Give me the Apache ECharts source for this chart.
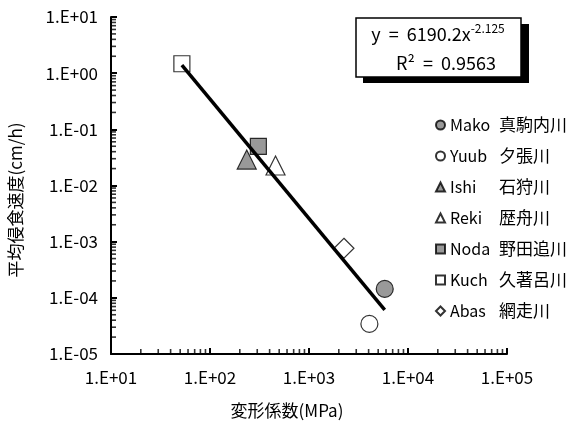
<!DOCTYPE html>
<head>
    <meta charset="utf-8">
    <title>ECharts</title>
    <script src="https://cdn.jsdelivr.net/npm/echarts@6/dist/echarts.min.js"></script>
</head>
<body style="margin:0;background:#fff">
    <div id="container" style="width:574px;height:421px"></div>
    <script type="text/javascript">
        // 観測値 [変形係数(MPa), 平均侵食速度(cm/h)]
        var mako = [[5820, 1.44e-4]];
        var yuub = [[4074, 3.43e-5]];
        var ishi = [[235, 0.029]];
        var reki = [[459, 0.0227]];
        var noda = [[308, 0.0496]];
        var kuch = [[52, 1.47]];
        var abas = [[2254, 7.64e-4]];
        // 近似線の両端
        var trend = [[52, 1.39], [5820, 6.1e-5]];

        var xTickLabels = ['1.E+01', '1.E+02', '1.E+03', '1.E+04', '1.E+05'];
        var yTickLabels = ['1.E-05', '1.E-04', '1.E-03', '1.E-02', '1.E-01', '1.E+00', '1.E+01'];
        var xDecades = [10, 100, 1000, 10000];
        var yDecades = [1e-5, 1e-4, 1e-3, 1e-2, 1e-1, 1];
        var minorSteps = [2, 3, 4, 5, 6, 7, 8, 9];

        var FONT = '"Noto Sans CJK JP", sans-serif';

        function expIndex(v, base) {
            return Math.round(Math.log10(v)) - base;
        }

        // 補助目盛り（対数）軸端ちょうどだと描かれないので少し内側に置く
        var xMinor = [], yMinor = [];
        xDecades.forEach(function (d) { minorSteps.forEach(function (s) { xMinor.push([d * s, 1.0001e-5]); }); });
        yDecades.forEach(function (d) { minorSteps.forEach(function (s) { yMinor.push([10.001, d * s]); }); });

        var dom = document.getElementById("container");
        var myChart = echarts.init(dom);

        function pt(name, data, symbol, fill, size) {
            return {
                name: name,
                type: 'scatter',
                data: data,
                symbol: symbol,
                symbolSize: size,
                itemStyle: { color: fill, borderColor: '#000', borderWidth: 1.2 },
                z: 3
            };
        }

        function minorTicks(name, data, horizontal) {
            return {
                name: name,
                type: 'scatter', data: data, silent: true, clip: false, z: 5,
                symbol: 'rect',
                symbolSize: horizontal ? [5, 1.6] : [1.6, 5],
                symbolOffset: horizontal ? [2.5, 0] : [0, -2.5],
                itemStyle: { color: '#000' }
            };
        }

        var option = {
            animation: false,
            grid: { left: 111, right: 67, top: 17, bottom: 67 },
            xAxis: {
                type: 'log', logBase: 10, min: 10, max: 100000,
                axisLine: { lineStyle: { color: '#000', width: 2 } },
                axisTick: { inside: true, length: 6, lineStyle: { color: '#000', width: 2 } },
                splitLine: { show: false },
                axisLabel: {
                    fontFamily: FONT, fontSize: 17, color: '#000', margin: 15,
                    formatter: function (v) { return xTickLabels[expIndex(v, 1)]; }
                }
            },
            yAxis: {
                type: 'log', logBase: 10, min: 1e-5, max: 10,
                axisLine: { lineStyle: { color: '#000', width: 2 } },
                axisTick: { inside: true, length: 6, lineStyle: { color: '#000', width: 2 } },
                splitLine: { show: false },
                axisLabel: {
                    fontFamily: FONT, fontSize: 17, color: '#000', margin: 13,
                    formatter: function (v) { return yTickLabels[expIndex(v, -5)]; }
                }
            },
            legend: {
                orient: 'vertical', left: 430, top: 110,
                itemWidth: 9, itemHeight: 9, itemGap: 11,
                formatter: function (name) {
                    var p = name.split(' ');
                    return '{a|' + p[0] + '}{b|' + p[1] + '}';
                },
                textStyle: {
                    fontFamily: FONT, fontSize: 17, color: '#000', lineHeight: 20,
                    rich: {
                        a: { fontFamily: FONT, fontSize: 16, width: 49, lineHeight: 20 },
                        b: { fontFamily: FONT, fontSize: 17, lineHeight: 20 }
                    }
                },
                data: [
                    { name: 'Mako 真駒内川', icon: 'circle' },
                    { name: 'Yuub 夕張川', icon: 'circle' },
                    { name: 'Ishi 石狩川', icon: 'triangle' },
                    { name: 'Reki 歴舟川', icon: 'triangle' },
                    { name: 'Noda 野田追川', icon: 'rect' },
                    { name: 'Kuch 久著呂川', icon: 'rect' },
                    { name: 'Abas 網走川', icon: 'diamond' }
                ]
            },
            graphic: [
                { type: 'rect', shape: { x: 363, y: 24, width: 166, height: 59 }, style: { fill: '#000' }, z: 10 },
                { type: 'rect', shape: { x: 356, y: 18, width: 165, height: 59 }, style: { fill: '#fff', stroke: '#000', lineWidth: 1.5 }, z: 11 },
                {
                    type: 'text', x: 438, y: 34, z: 12,
                    style: {
                        text: '{a|y  =  6190.2x}{s|-2.125}', align: 'center', verticalAlign: 'middle',
                        rich: {
                            a: { fontFamily: FONT, fontSize: 18, fill: '#000', lineHeight: 22 },
                            s: { fontFamily: FONT, fontSize: 12, fill: '#000', lineHeight: 22, padding: [0, 0, 12, 0] }
                        }
                    }
                },
                {
                    type: 'text', x: 446, y: 63, z: 12,
                    style: { text: 'R²  =  0.9563', align: 'center', verticalAlign: 'middle', fontFamily: FONT, fontSize: 18, fill: '#000' }
                },
                {
                    type: 'text', x: 16, y: 200, rotation: Math.PI / 2, z: 12,
                    style: { text: '平均侵食速度(cm/h)', align: 'center', verticalAlign: 'middle', fontFamily: FONT, fontSize: 17, fill: '#000' }
                },
                {
                    type: 'text', x: 287, y: 411, z: 12,
                    style: { text: '変形係数(MPa)', align: 'center', verticalAlign: 'middle', fontFamily: FONT, fontSize: 17, fill: '#000' }
                }
            ],
            series: [
                pt('Mako 真駒内川', mako, 'circle', '#808080', 17),
                pt('Yuub 夕張川', yuub, 'circle', '#fff', 17),
                pt('Ishi 石狩川', ishi, 'triangle', '#808080', 19),
                pt('Reki 歴舟川', reki, 'triangle', '#fff', 19),
                pt('Noda 野田追川', noda, 'rect', '#808080', 16),
                pt('Kuch 久著呂川', kuch, 'rect', '#fff', 16),
                pt('Abas 網走川', abas, 'diamond', '#fff', 20),
                {
                    name: 'trend', type: 'line', data: trend, symbol: 'none',
                    lineStyle: { color: '#000', width: 3.5 }, z: 4, silent: true
                },
                minorTicks('xminor', xMinor, false),
                minorTicks('yminor', yMinor, true)
            ]
        };
        myChart.setOption(option);
    </script>
</body>
